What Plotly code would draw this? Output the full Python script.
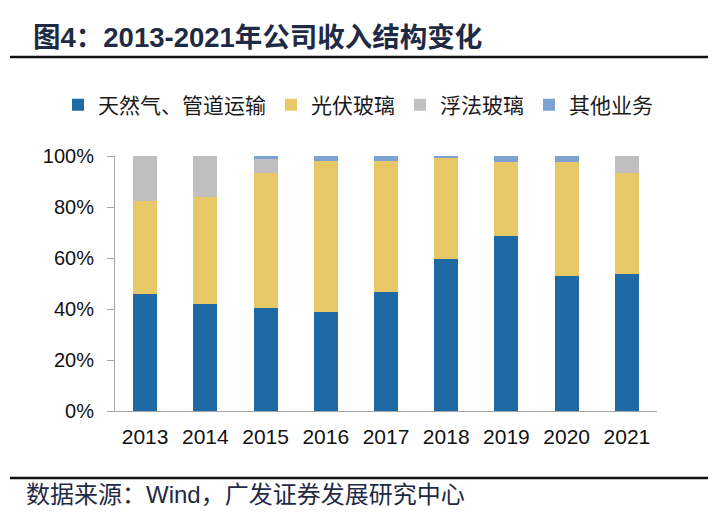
import plotly.graph_objects as go

years = ["2013", "2014", "2015", "2016", "2017", "2018", "2019", "2020", "2021"]
gas_pipeline = [0.459, 0.420, 0.404, 0.389, 0.467, 0.597, 0.686, 0.528, 0.537]
pv_glass = [0.365, 0.418, 0.529, 0.591, 0.513, 0.394, 0.292, 0.450, 0.397]
float_glass = [0.176, 0.162, 0.056, 0.0, 0.0, 0.0, 0.0, 0.0, 0.066]
other_biz = [0.0, 0.0, 0.011, 0.020, 0.020, 0.009, 0.022, 0.022, 0.0]

series_names = ["天然气、管道运输", "光伏玻璃", "浮法玻璃", "其他业务"]
series_colors = ["#1F6AA5", "#E8C866", "#BFBFBF", "#7BA2D1"]
y_ticks = [0, 0.2, 0.4, 0.6, 0.8, 1.0]
y_tick_labels = ["0%", "20%", "40%", "60%", "80%", "100%"]

# page body has an 8px default margin; work in page coordinates
OFF = 8
W, H = 724 - OFF, 522 - OFF
L, R, T, B = 115 - OFF, 657 - OFF, 156 - OFF, 411 - OFF

def px(x):
    return (x - OFF - L) / (R - L)

def py(y):
    return (B - (y - OFF)) / (B - T)

fig = go.Figure()
for name, vals, col in zip(series_names, [gas_pipeline, pv_glass, float_glass, other_biz], series_colors):
    fig.add_trace(go.Bar(x=years, y=vals, name=name, marker=dict(color=col, line=dict(width=0))))

cjk = "Noto Sans CJK SC"
fig.update_layout(
    width=W, height=H,
    margin=dict(l=L, r=W - R, t=T, b=H - B, pad=0, autoexpand=False),
    barmode="stack", bargap=0.6,
    plot_bgcolor="white", paper_bgcolor="white",
    showlegend=True,
    legend=dict(orientation="h", x=px(58), xanchor="left", y=py(105), yanchor="middle",
                font=dict(family=cjk, size=21, color="#1a1a1a"),
                itemwidth=30, tracegroupgap=0, traceorder="normal",
                bgcolor="rgba(0,0,0,0)"),
    xaxis=dict(showgrid=False, showline=True, linecolor="#A6A6A6", linewidth=1,
               ticks="", tickfont=dict(family="Liberation Sans, Arial", size=21, color="#111"),
               ticklabelstandoff=7, fixedrange=True),
    yaxis=dict(range=[0, 1], tickvals=y_ticks, ticktext=y_tick_labels, showgrid=False,
               showline=True, linecolor="#A6A6A6", linewidth=1, ticks="outside",
               ticklen=7, tickcolor="#A6A6A6",
               tickfont=dict(family="Liberation Sans, Arial", size=20, color="#111"),
               ticklabelstandoff=9, zeroline=False),
)

fig.add_annotation(text="<b>图4：2013-2021年公司收入结构变化</b>", xref="paper", yref="paper",
                   x=px(31), y=py(37), xanchor="left", yanchor="middle", showarrow=False,
                   font=dict(family="Liberation Sans, " + cjk, size=27.5, color="#1F2A44"))
fig.add_annotation(text="数据来源：Wind，广发证券发展研究中心", xref="paper", yref="paper",
                   x=px(24), y=py(494), xanchor="left", yanchor="middle", showarrow=False,
                   font=dict(family="Liberation Sans, " + cjk, size=24, color="#1F2A44"))
fig.add_shape(type="line", xref="paper", yref="paper", x0=px(10), x1=px(708), y0=py(57), y1=py(57),
              line=dict(color="#111", width=2.5))
fig.add_shape(type="line", xref="paper", yref="paper", x0=px(10), x1=px(708), y0=py(478), y1=py(478),
              line=dict(color="#111", width=2.5))

fig.write_html("out.html")
